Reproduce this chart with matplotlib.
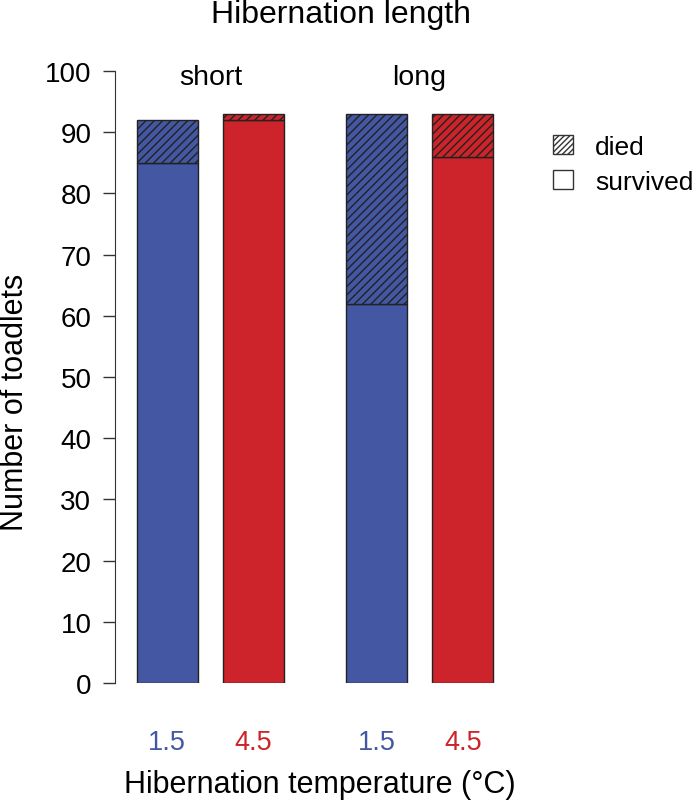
import matplotlib.pyplot as plt
from matplotlib.patches import Patch

# data
temps = ['1.5', '4.5', '1.5', '4.5']
lengths = ['short', 'long']
survived = [85, 92, 62, 86]
died = [7, 1, 31, 7]

blue = '#4457a2'
red = '#cc242a'
colors = [blue, red, blue, red]
pos = [0, 1.4, 3.4, 4.8]

plt.rcParams['font.family'] = ['Liberation Sans', 'DejaVu Sans']
plt.rcParams['hatch.linewidth'] = 1.0
plt.rcParams['hatch.color'] = 'black'

fig = plt.figure(figsize=(7, 8.03), dpi=100)
ax = fig.add_axes([115 / 700, 119 / 803, 400 / 700, 612 / 803])

ax.bar(pos, survived, width=1, color=colors, edgecolor='#222222', linewidth=1)
ax.bar(pos, died, width=1, bottom=survived, color=colors, edgecolor='#222222',
       linewidth=1, hatch='////')

ax.set_xlim(-0.85, 5.65)
ax.set_ylim(0, 100)
ax.set_yticks(range(0, 101, 10))
for s in ['top', 'right', 'bottom']:
    ax.spines[s].set_visible(False)
ax.spines['left'].set_color('#333333')
ax.tick_params(axis='y', length=9, width=1, color='#333333', labelsize=20, pad=8)
ax.set_xticks(pos)
ax.set_xticklabels(temps)
ax.tick_params(axis='x', length=0, labelsize=19.5, pad=33)
for lab, c in zip(ax.get_xticklabels(), colors):
    lab.set_color(c)

# axis titles placed like the R plot
fig.text(15 / 700, 1 - 402 / 803, 'Number of toadlets', rotation=90,
         ha='center', va='center', fontsize=22)
fig.text(320 / 700, 1 - 785 / 803, 'Hibernation temperature (°C)',
         ha='center', va='center', fontsize=22)

# group labels
for i, name in enumerate(lengths):
    cx = (pos[2 * i] + pos[2 * i + 1]) / 2
    ax.text(cx, 99, name, ha='center', va='center', fontsize=20.5)

fig.text(341 / 700, 1 - 15 / 803, 'Hibernation length', ha='center', va='center',
         fontsize=23)

handles = [Patch(facecolor='white', edgecolor='#333333', hatch='//////', label='died'),
           Patch(facecolor='white', edgecolor='#333333', label='survived')]
fig.legend(handles=handles, loc='upper left', bbox_to_anchor=(553 / 700, 1 - 136 / 803),
           frameon=False, fontsize=19, handlelength=0.75, handleheight=0.75,
           handletextpad=0.85, labelspacing=0.4, borderpad=0, borderaxespad=0)

fig.savefig('out.png', dpi=100)
